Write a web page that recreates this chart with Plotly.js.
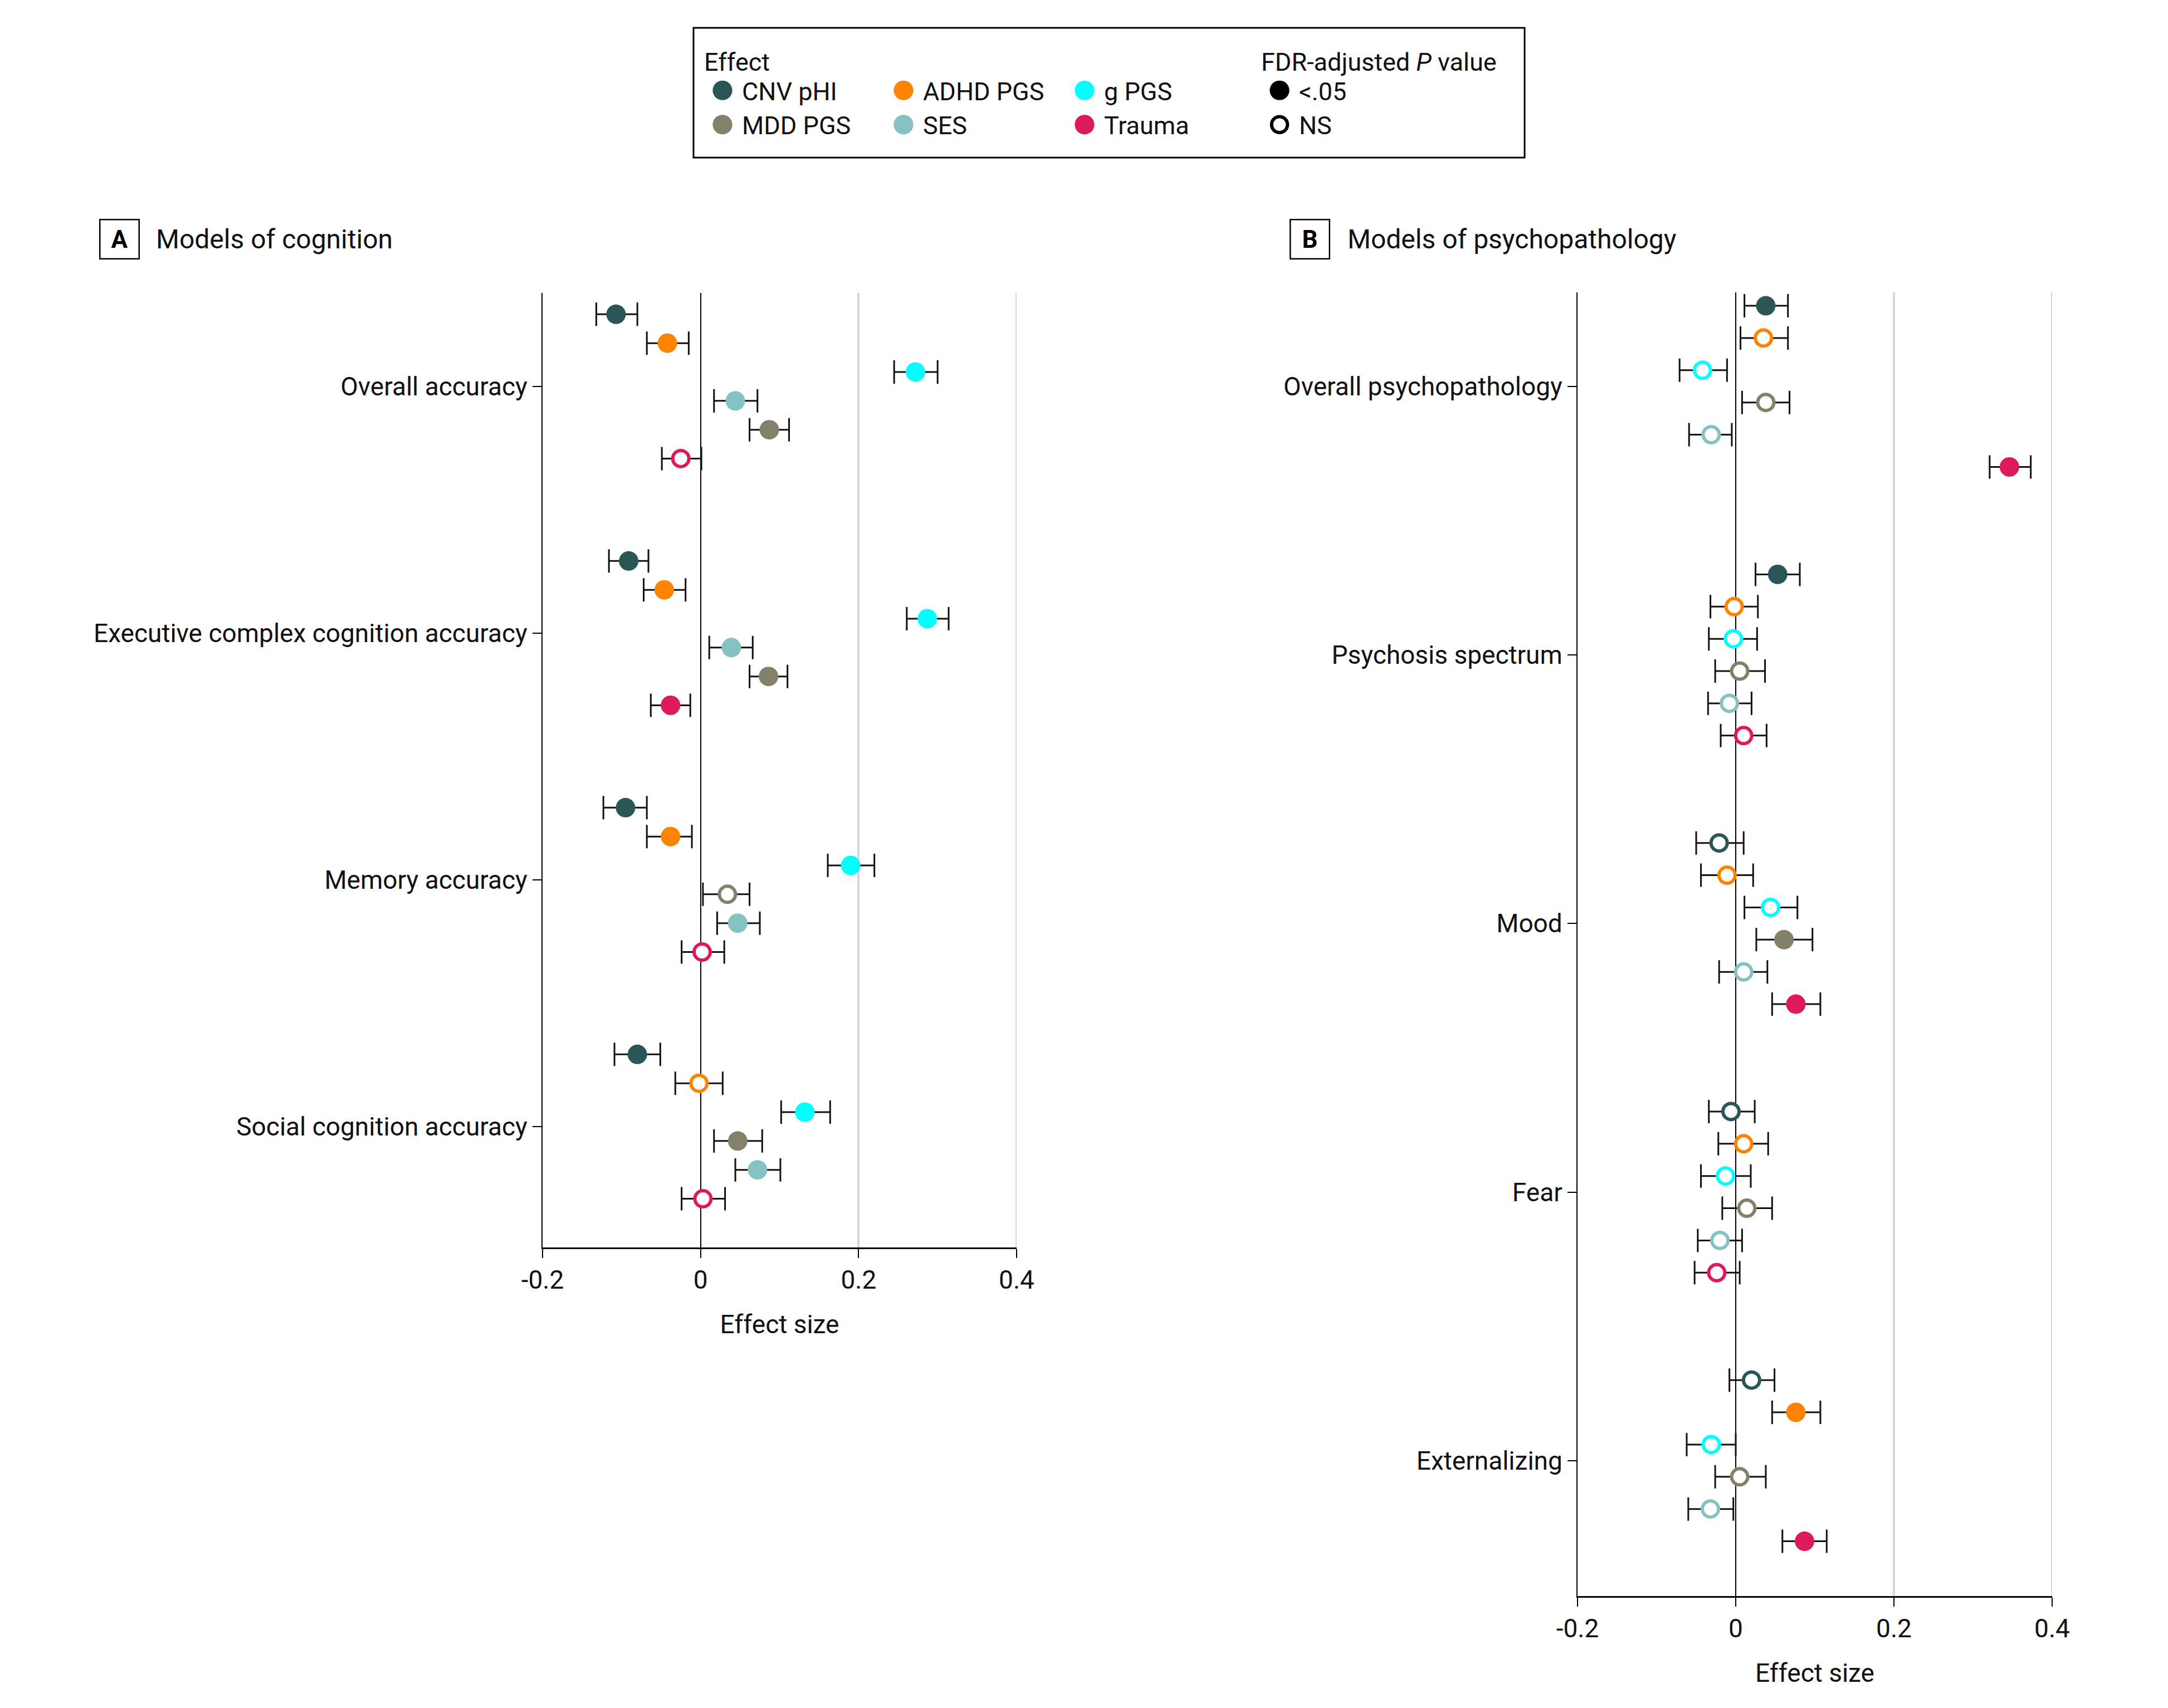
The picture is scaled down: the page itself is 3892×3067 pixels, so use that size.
<!DOCTYPE html>
<html>
<head>
<meta charset="utf-8">
<script src="https://cdn.plot.ly/plotly-3.0.1.min.js"></script>
<style>
  body { margin: 0; background: #fff; }
  #chart { width: 3892px; height: 3067px; }
</style>
</head>
<body>
<div id="chart"></div>
<script>
// effects, in legend order (columns: CNV/MDD, ADHD/SES, g/Trauma)
const effects = ['CNV pHI', 'ADHD PGS', 'g PGS', 'MDD PGS', 'SES', 'Trauma'];
const effectColors = ['#2b5656', '#ff8200', '#00ffff', '#84816b', '#86c2c2', '#de1b5a'];

// Panel A - models of cognition
const cognitionRows = ['Overall accuracy', 'Executive complex cognition accuracy', 'Memory accuracy', 'Social cognition accuracy'];
// top-to-bottom order of the effects inside each row
const cognitionOrder = [
    ['CNV pHI', 'ADHD PGS', 'g PGS', 'SES', 'MDD PGS', 'Trauma'],
    ['CNV pHI', 'ADHD PGS', 'g PGS', 'SES', 'MDD PGS', 'Trauma'],
    ['CNV pHI', 'ADHD PGS', 'g PGS', 'MDD PGS', 'SES', 'Trauma'],
    ['CNV pHI', 'ADHD PGS', 'g PGS', 'MDD PGS', 'SES', 'Trauma']
];
// columns follow `effects`
const cognitionEst = [
    [-0.107, -0.042, 0.272, 0.087, 0.044, -0.025],
    [-0.091, -0.046, 0.287, 0.086, 0.039, -0.038],
    [-0.095, -0.038, 0.190, 0.034, 0.047, 0.002],
    [-0.080, -0.002, 0.132, 0.047, 0.072, 0.003]
];
const cognitionLow = [
    [-0.132, -0.068, 0.245, 0.062, 0.017, -0.049],
    [-0.116, -0.072, 0.261, 0.062, 0.011, -0.063],
    [-0.123, -0.068, 0.161, 0.003, 0.021, -0.024],
    [-0.109, -0.032, 0.102, 0.017, 0.044, -0.024]
];
const cognitionHigh = [
    [-0.080, -0.015, 0.300, 0.112, 0.072, 0.001],
    [-0.066, -0.019, 0.314, 0.110, 0.066, -0.013],
    [-0.068, -0.011, 0.220, 0.062, 0.075, 0.030],
    [-0.051, 0.028, 0.164, 0.078, 0.101, 0.031]
];
const cognitionSig = [
    [1, 1, 1, 1, 1, 0],
    [1, 1, 1, 1, 1, 1],
    [1, 1, 1, 0, 1, 0],
    [1, 0, 1, 1, 1, 0]
];

// Panel B - models of psychopathology
const psychRows = ['Overall psychopathology', 'Psychosis spectrum', 'Mood', 'Fear', 'Externalizing'];
const psychOrder = psychRows.map(() => ['CNV pHI', 'ADHD PGS', 'g PGS', 'MDD PGS', 'SES', 'Trauma']);
const psychEst = [
    [0.038, 0.035, -0.042, 0.038, -0.031, 0.346],
    [0.053, -0.002, -0.003, 0.005, -0.008, 0.010],
    [-0.021, -0.011, 0.044, 0.061, 0.010, 0.076],
    [-0.006, 0.010, -0.013, 0.014, -0.020, -0.024],
    [0.020, 0.076, -0.031, 0.005, -0.032, 0.087]
];
const psychLow = [
    [0.011, 0.006, -0.071, 0.008, -0.059, 0.321],
    [0.025, -0.032, -0.034, -0.026, -0.035, -0.019],
    [-0.050, -0.044, 0.011, 0.026, -0.021, 0.046],
    [-0.034, -0.022, -0.044, -0.017, -0.048, -0.052],
    [-0.008, 0.046, -0.062, -0.026, -0.060, 0.059]
];
const psychHigh = [
    [0.066, 0.066, -0.011, 0.068, -0.005, 0.373],
    [0.081, 0.028, 0.027, 0.037, 0.020, 0.039],
    [0.010, 0.022, 0.078, 0.097, 0.040, 0.107],
    [0.024, 0.041, 0.019, 0.046, 0.008, 0.005],
    [0.049, 0.107, 0.000, 0.038, -0.003, 0.115]
];
const psychSig = [
    [1, 0, 0, 0, 0, 1],
    [1, 0, 0, 0, 0, 0],
    [0, 0, 0, 1, 0, 1],
    [0, 0, 0, 0, 0, 0],
    [0, 1, 0, 0, 0, 1]
];

const xTicks = [-0.2, 0, 0.2, 0.4];
const xTickText = ['-0.2', '0', '0.2', '0.4'];

const W = 3892, H = 3067;
const FONT = 'Roboto, Arial, sans-serif';

// one trace per effect for a panel; rows sit at 0,1,2..., effects dodge around them
function panelTraces(rows, order, est, low, high, sig, step, xa, ya) {
    return effects.map((name, k) => {
        const col = effectColors[k];
        const x = rows.map((r, i) => est[i][k]);
        const y = rows.map((r, i) => i + (order[i].indexOf(name) - 2.5) * step);
        const s = rows.map((r, i) => sig[i][k]);
        return {
            type: 'scatter', mode: 'markers', name: name,
            x: x, y: y, xaxis: xa, yaxis: ya, showlegend: false,
            marker: {
                symbol: 'circle', opacity: 1,
                size: s.map(v => v ? 35 : 29),
                color: s.map(v => v ? col : '#ffffff'),
                line: { color: col, width: s.map(v => v ? 0 : 6) }
            },
            error_x: {
                type: 'data', symmetric: false,
                array: rows.map((r, i) => high[i][k] - est[i][k]),
                arrayminus: rows.map((r, i) => est[i][k] - low[i][k]),
                color: '#111', thickness: 3, width: 21
            }
        };
    });
}

const data = [
    ...panelTraces(cognitionRows, cognitionOrder, cognitionEst, cognitionLow, cognitionHigh, cognitionSig, 0.117, 'x', 'y'),
    ...panelTraces(psychRows, psychOrder, psychEst, psychLow, psychHigh, psychSig, 0.12, 'x2', 'y2')
];

// legend-only entries
effects.forEach((name, k) => {
    data.push({
        type: 'scatter', mode: 'markers', name: name, x: [null], y: [null],
        legend: 'legend', legendgroup: 'g' + (k % 3),
        marker: { symbol: 'circle', size: 16, color: effectColors[k], line: { width: 0 } }
    });
});
data.push({
    type: 'scatter', mode: 'markers', name: '&lt;.05', x: [null], y: [null], legend: 'legend2',
    marker: { symbol: 'circle', size: 16, color: '#000000', line: { width: 0 } }
});
data.push({
    type: 'scatter', mode: 'markers', name: 'NS', x: [null], y: [null], legend: 'legend2',
    marker: { symbol: 'circle', size: 13, color: '#ffffff', line: { color: '#000000', width: 2.7 } }
});

const tickFont = { family: FONT, size: 46, color: '#111' };

function xAxis(domain, anchor) {
    return {
        domain: domain, anchor: anchor, range: [-0.2, 0.4],
        tickvals: xTicks, ticktext: xTickText, tickfont: tickFont,
        ticks: 'outside', ticklen: 16, tickwidth: 2, tickcolor: '#000',
        showline: true, linecolor: '#000', linewidth: 3,
        showgrid: true, gridcolor: '#d6d6d6', gridwidth: 4,
        zeroline: true, zerolinecolor: '#000', zerolinewidth: 2,
        title: { text: 'Effect size', font: tickFont, standoff: 38 },
        fixedrange: true
    };
}

function yAxis(domain, anchor, rows, range) {
    return {
        domain: domain, anchor: anchor, range: range,
        tickvals: rows.map((r, i) => i), ticktext: rows, tickfont: tickFont,
        ticks: 'outside', ticklen: 16, tickwidth: 2, tickcolor: '#000',
        showline: true, linecolor: '#000', linewidth: 2,
        showgrid: false, zeroline: false, fixedrange: true
    };
}

// grid line at the right end of an x axis (plotly drops it at the range edge)
function edgeGrid(xref, yref) {
    return { type: 'line', xref: xref, yref: yref + ' domain', x0: 0.4, x1: 0.4, y0: 0, y1: 1,
             layer: 'below', line: { color: '#d6d6d6', width: 4 } };
}

const legendFont = { family: FONT, size: 45, color: '#111' };

const layout = {
    width: W, height: H,
    margin: { l: 0, r: 0, t: 0, b: 0 },
    paper_bgcolor: '#fff', plot_bgcolor: '#fff',
    font: { family: FONT, color: '#111' },
    xaxis: xAxis([974 / W, 1825 / W], 'y'),
    yaxis: yAxis([1 - 2240 / H, 1 - 526 / H], 'x', cognitionRows, [3.49, -0.379]),
    xaxis2: xAxis([2832 / W, 3684 / W], 'y2'),
    yaxis2: yAxis([1 - 2866 / H, 1 - 525 / H], 'x2', psychRows, [4.504, -0.35]),
    legend: {
        orientation: 'h', traceorder: 'grouped',
        x: 1262 / W, y: 1 - 68 / H, xanchor: 'left', yanchor: 'top',
        font: legendFont, itemwidth: 60, entrywidth: 250,
        title: { text: 'Effect', side: 'top', font: legendFont },
        bgcolor: 'rgba(0,0,0,0)', borderwidth: 0
    },
    legend2: {
        orientation: 'v',
        x: 2262 / W, y: 1 - 68 / H, xanchor: 'left', yanchor: 'top',
        font: legendFont, itemwidth: 60,
        title: { text: 'FDR-adjusted <i>P</i> value', side: 'top', font: legendFont },
        bgcolor: 'rgba(0,0,0,0)', borderwidth: 0
    },
    shapes: [
        edgeGrid('x', 'y'),
        edgeGrid('x2', 'y2'),
        // box round both legends
        { type: 'rect', xref: 'paper', yref: 'paper',
          x0: 1245 / W, x1: 2737 / W, y0: 1 - 283 / H, y1: 1 - 50 / H,
          line: { color: '#000', width: 3 } }
    ],
    annotations: [
        { xref: 'paper', yref: 'paper', x: 214 / W, y: 1 - 429 / H, xanchor: 'center', yanchor: 'middle',
          text: '<b>A</b>', showarrow: false, font: { family: FONT, size: 44, color: '#000' },
          bordercolor: '#000', borderwidth: 2.5, borderpad: 2, width: 64, height: 64 },
        { xref: 'paper', yref: 'paper', x: 278 / W, y: 1 - 429 / H, xanchor: 'left', yanchor: 'middle',
          text: 'Models of cognition', showarrow: false, font: { family: FONT, size: 48, color: '#111' } },
        { xref: 'paper', yref: 'paper', x: 2351 / W, y: 1 - 429 / H, xanchor: 'center', yanchor: 'middle',
          text: '<b>B</b>', showarrow: false, font: { family: FONT, size: 44, color: '#000' },
          bordercolor: '#000', borderwidth: 2.5, borderpad: 2, width: 64, height: 64 },
        { xref: 'paper', yref: 'paper', x: 2417 / W, y: 1 - 429 / H, xanchor: 'left', yanchor: 'middle',
          text: 'Models of psychopathology', showarrow: false, font: { family: FONT, size: 48, color: '#111' } }
    ]
};

Plotly.newPlot('chart', data, layout, { staticPlot: true }).then(gd => {
    // legend symbols are capped at 16px by plotly; blow them up to match the plot markers
    gd.querySelectorAll('.legendpoints path').forEach(p => {
        const t = p.getAttribute('transform') || '';
        p.setAttribute('transform', t + ' scale(2.2)');
    });
});
</script>
</body>
</html>
